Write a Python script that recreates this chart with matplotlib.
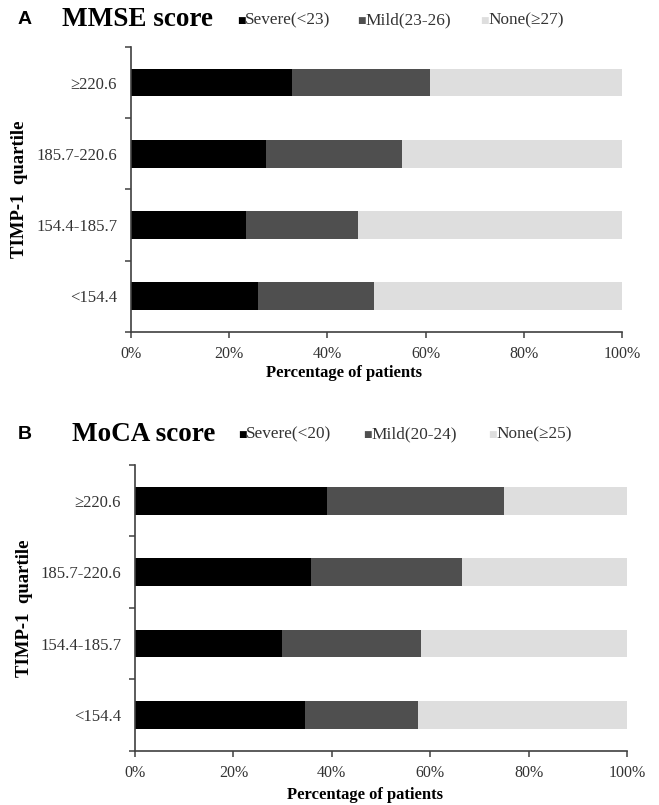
import matplotlib
matplotlib.use('Agg')
import matplotlib.pyplot as plt
import numpy as np

# Data (percent of patients)
quartiles = ['<154.4', '154.4-185.7', '185.7-220.6', '\u2265220.6']

mmse_labels = ['Severe(<23)', 'Mild(23-26)', 'None(\u226527)']
mmse_severe = [25.8, 23.4, 27.4, 32.7]
mmse_mild = [23.6, 22.8, 27.8, 28.1]

moca_labels = ['Severe(<20)', 'Mild(20-24)', 'None(\u226525)']
moca_severe = [34.5, 29.8, 35.7, 39.0]
moca_mild = [23.1, 28.4, 30.8, 35.9]

colors = ['#000000', '#4f4f4f', '#dedede']
W, H = 659, 805

serif = 'Liberation Serif'
plt.rcParams['font.family'] = serif

fig = plt.figure(figsize=(W / 100, H / 100), dpi=100)


def panel(rect, severe, mild, letter, title, labels, head_y, title_x, leg_x, xlab_xy):
    ax = fig.add_axes([rect[0] / W, 1 - rect[3] / H, (rect[2] - rect[0]) / W, (rect[3] - rect[1]) / H])
    severe = np.array(severe)
    mild = np.array(mild)
    none = 100 - severe - mild
    y = np.arange(len(quartiles))
    left = np.zeros(len(quartiles))
    for vals, c in zip([severe, mild, none], colors):
        ax.barh(y, vals, left=left, height=0.39, color=c, edgecolor='none')
        left = left + vals
    ax.set_xlim(0, 100)
    ax.set_ylim(-0.5, len(quartiles) - 0.5)
    ax.set_xticks(np.arange(0, 101, 20))
    ax.set_xticklabels(['%d%%' % v for v in range(0, 101, 20)], fontsize=11.5, color='#333333')
    ax.set_yticks(y)
    ax.set_yticklabels(quartiles, fontsize=12, color='#333333')
    ax.set_yticks(np.arange(-0.5, len(quartiles)), minor=True)
    ax.tick_params(axis='y', which='major', length=0, pad=10)
    ax.tick_params(axis='y', which='minor', length=4, width=1.1, color='#404040', direction='out')
    ax.tick_params(axis='x', length=4, width=1.1, color='#404040', direction='out', pad=6)
    for s in ['top', 'right']:
        ax.spines[s].set_visible(False)
    for s in ['left', 'bottom']:
        ax.spines[s].set_color('#404040')
        ax.spines[s].set_linewidth(1.2)
    ax.set_ylabel('TIMP-1  quartile', fontsize=13.5, fontweight='bold')

    fig.text(18 / W, 1 - head_y / H, letter, family='Liberation Sans', fontweight='bold',
             fontsize=14, va='center', ha='left')
    fig.text(title_x / W, 1 - head_y / H, title, fontsize=19.5, fontweight='bold',
             va='center', ha='left')
    for lx, lab, c in zip(leg_x, labels, colors):
        fig.text(lx / W, 1 - (head_y + 0.5) / H, '\u25a0', family='DejaVu Sans', fontsize=6.5,
                 color=c, va='center', ha='left')
        fig.text((lx + 8) / W, 1 - head_y / H, lab, fontsize=12.4, color='#333333',
                 va='center', ha='left')
    fig.text(xlab_xy[0] / W, 1 - xlab_xy[1] / H, 'Percentage of patients', fontsize=12,
             fontweight='bold', ha='center', va='center')
    return ax


axA = panel((131, 47, 622, 331.7), mmse_severe, mmse_mild, 'A', 'MMSE score', mmse_labels,
            20, 62, [237, 357, 480], (344, 373))
axA.yaxis.set_label_coords(-(131 - 28) / (622 - 131), 0.5)
axB = panel((135, 465, 627, 750.7), moca_severe, moca_mild, 'B', 'MoCA score', moca_labels,
            434, 72, [238, 363, 488], (365, 795))
axB.yaxis.set_label_coords(-(135 - 33) / (627 - 135), 0.5)

fig.savefig('out.png', dpi=100)
